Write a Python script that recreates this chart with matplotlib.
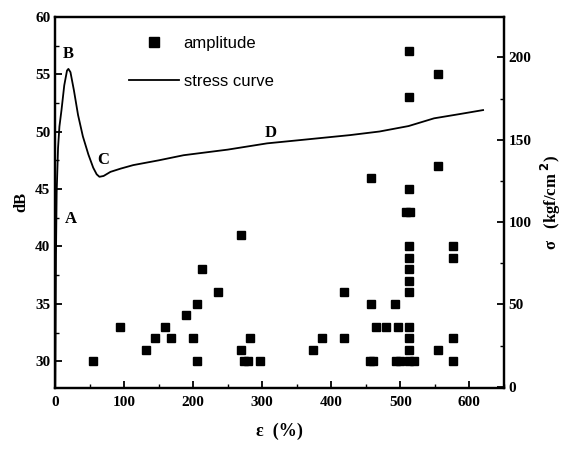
import matplotlib
matplotlib.use('Agg')
import matplotlib.pyplot as plt
from matplotlib.lines import Line2D
from matplotlib.ticker import MultipleLocator

# amplitude events: strain (%) and amplitude (dB)
amp_strain = [54, 94, 131, 144, 159, 168, 190, 199, 205, 206, 213, 236,
              269, 269, 273, 280, 282, 297, 374, 386, 419, 419,
              457, 458, 456, 460, 465, 479, 493, 497, 494, 499,
              512, 512, 512, 508, 514, 512, 512, 512, 512, 512, 512, 512, 512, 513, 520,
              555, 555, 555, 576, 576, 576, 576]
amp_db = [30, 33, 31, 32, 33, 32, 34, 32, 30, 35, 38, 36,
          41, 31, 30, 30, 32, 30, 31, 32, 36, 32,
          46, 35, 30, 30, 33, 33, 35, 33, 30, 30,
          57, 53, 45, 43, 43, 40, 39, 38, 37, 36, 33, 32, 31, 30, 30,
          55, 47, 31, 40, 39, 32, 30]

# stress curve: strain (%) and stress (kgf/cm2)
curve_strain = [0, 0.5, 1, 2, 4, 6, 9, 13, 17, 19, 22, 27, 33, 40, 48, 55, 60, 64,
                70, 80, 95, 113, 150, 186, 250, 307, 360, 427, 470, 512, 549, 585, 620]
curve_stress = [0, 40, 80, 118, 145, 158, 168, 183, 192, 193, 191, 180, 165, 152, 141,
                133, 129, 127.5, 128, 130.5, 132.5, 134.6, 137.5, 140.6, 144, 147.8,
                150, 152.8, 155, 158.3, 163, 165.5, 168]

point_labels = ['A', 'B', 'C', 'D']
label_x = [23, 19, 70, 312]
label_y = [42.4, 56.8, 47.5, 49.9]

plt.rcParams['font.family'] = ['Liberation Serif', 'DejaVu Serif']

fig = plt.figure(figsize=(5.67, 4.55), dpi=100)
ax = fig.add_axes([0.0975, 0.148, 0.791, 0.815])
ax2 = ax.twinx()

ax.plot(amp_strain, amp_db, 's', color='black', ms=6, zorder=3)
ax2.plot(curve_strain, curve_stress, '-', color='black', lw=1.3)

for t, x, y in zip(point_labels, label_x, label_y):
    ax.text(x, y, t, fontsize=12, fontweight='bold', ha='center', va='center')

ax.set_xlim(0, 650)
ax.set_ylim(27.7, 60)
ax2.set_ylim(-0.5, 224.6)

ax.xaxis.set_major_locator(MultipleLocator(100))
ax.xaxis.set_minor_locator(MultipleLocator(50))
ax.yaxis.set_major_locator(MultipleLocator(5))
ax.yaxis.set_minor_locator(MultipleLocator(2.5))
ax2.yaxis.set_major_locator(MultipleLocator(50))
ax2.yaxis.set_minor_locator(MultipleLocator(25))

for a in (ax, ax2):
    a.tick_params(which='major', direction='in', length=5, width=1.3, labelsize=11)
    a.tick_params(which='minor', direction='in', length=3, width=1)
    for lab in a.get_xticklabels() + a.get_yticklabels():
        lab.set_fontweight('bold')
    for s in a.spines.values():
        s.set_linewidth(1.6)
ax.tick_params(axis='x', pad=6)

ax.set_xlabel('\u03b5  (%)', fontsize=13, fontweight='bold', labelpad=10)
ax.set_ylabel('dB', fontsize=12, fontweight='bold', labelpad=4)
ax2.set_ylabel('\u03c3   (kgf/cm$^{\\ \\mathbf{2}}$)', fontsize=12, fontweight='bold', labelpad=5)

handles = [Line2D([], [], marker='s', color='black', ls='none', ms=7),
           Line2D([], [], color='black', lw=1.3)]
ax.legend(handles, ['amplitude', 'stress curve'], loc='upper left',
          bbox_to_anchor=(0.13, 0.99), frameon=False, handlelength=3.0,
          handletextpad=0.3, labelspacing=1.4,
          prop={'family': 'Liberation Sans', 'size': 12})

fig.savefig('out.png', dpi=100)
